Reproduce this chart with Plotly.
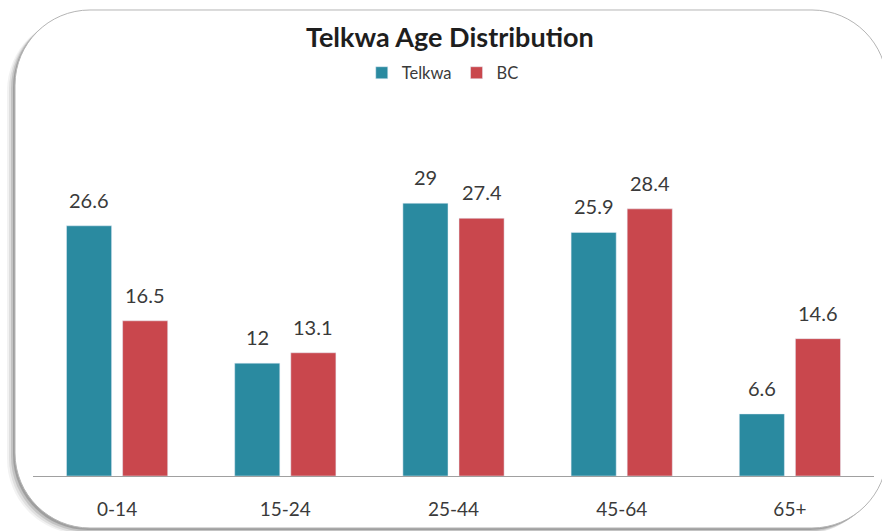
import plotly.graph_objects as go

categories = ["0-14", "15-24", "25-44", "45-64", "65+"]
telkwa = [26.6, 12, 29, 25.9, 6.6]
bc = [16.5, 13.1, 27.4, 28.4, 14.6]
series_names = ["Telkwa", "BC"]
title_text = "Telkwa Age Distribution"

W, H = 882, 531
def px(x):
    return x / W
def py(y):
    return 1 - y / H

def rounded_path(x0, y0, x1, y1, r):
    k = 0.5523 * r
    def P(x, y):
        return f"{px(x):.5f},{py(y):.5f}"
    d = (f"M {P(x0 + r, y0)} L {P(x1 - r, y0)} "
         f"C {P(x1 - r + k, y0)} {P(x1, y0 + r - k)} {P(x1, y0 + r)} "
         f"L {P(x1, y1 - r)} "
         f"C {P(x1, y1 - r + k)} {P(x1 - r + k, y1)} {P(x1 - r, y1)} "
         f"L {P(x0 + r, y1)} "
         f"C {P(x0 + r - k, y1)} {P(x0, y1 - r + k)} {P(x0, y1 - r)} "
         f"L {P(x0, y0 + r)} "
         f"C {P(x0, y0 + r - k)} {P(x0 + r - k, y0)} {P(x0 + r, y0)} Z")
    return d

teal = "#2a8aa0"
red = "#c9474d"
text_col = "#3a3a3a"

fig = go.Figure()
fig.add_trace(go.Bar(x=categories, y=telkwa, name=series_names[0], marker_color=teal))
fig.add_trace(go.Bar(x=categories, y=bc, name=series_names[1], marker_color=red))

annotations = []
for vals, shift in [(telkwa, -28), (bc, 28)]:
    for c, v in zip(categories, vals):
        annotations.append(dict(x=c, y=v, xref="x", yref="y", text=f"{v:g}", showarrow=False,
                                xanchor="center", yanchor="bottom", xshift=shift, yshift=12,
                                font=dict(size=20, color=text_col)))
annotations.append(dict(text=f"<b>{title_text}</b>", x=0.51, y=py(36), xref="paper", yref="paper",
                        xanchor="center", yanchor="middle", showarrow=False,
                        font=dict(size=27, color="#1e1e1e")))

shapes = []
for dx, dy, c in [(-8, 6, "rgba(0,0,0,0.05)"), (-6, 5, "rgba(0,0,0,0.08)"),
                  (-4, 3.5, "rgba(0,0,0,0.12)"), (-2, 2, "rgba(0,0,0,0.18)")]:
    shapes.append(dict(type="path", xref="paper", yref="paper", layer="below",
                       path=rounded_path(15 + dx, 10 + dy, 887 + dx, 528 + dy, 75),
                       fillcolor=c, line=dict(width=0)))
shapes.append(dict(type="path", xref="paper", yref="paper", layer="below",
                   path=rounded_path(15, 10, 887, 528, 75),
                   fillcolor="white", line=dict(color="#b5b5b5", width=1)))

fig.update_layout(
    width=W, height=H,
    margin=dict(l=0, r=0, t=0, b=0),
    paper_bgcolor="white", plot_bgcolor="rgba(0,0,0,0)",
    font=dict(family="Lato, Carlito, Open Sans, sans-serif", color=text_col),
    barmode="group", bargap=0.333, bargroupgap=0.196,
    showlegend=True,
    legend=dict(orientation="h", x=0.502, y=py(73), xanchor="center", yanchor="middle",
                font=dict(size=16.5, color=text_col), itemwidth=30, bgcolor="rgba(0,0,0,0)",
                traceorder="normal"),
    xaxis=dict(domain=[px(33), px(874)], showline=True, linecolor="#a0a0a0", linewidth=1,
               tickfont=dict(size=19, color=text_col), ticks="", ticklabelstandoff=16,
               showgrid=False, zeroline=False),
    yaxis=dict(domain=[py(476), py(175)], range=[0, 32], visible=False, showgrid=False),
    shapes=shapes,
    annotations=annotations,
)

fig.write_html("out.html")
